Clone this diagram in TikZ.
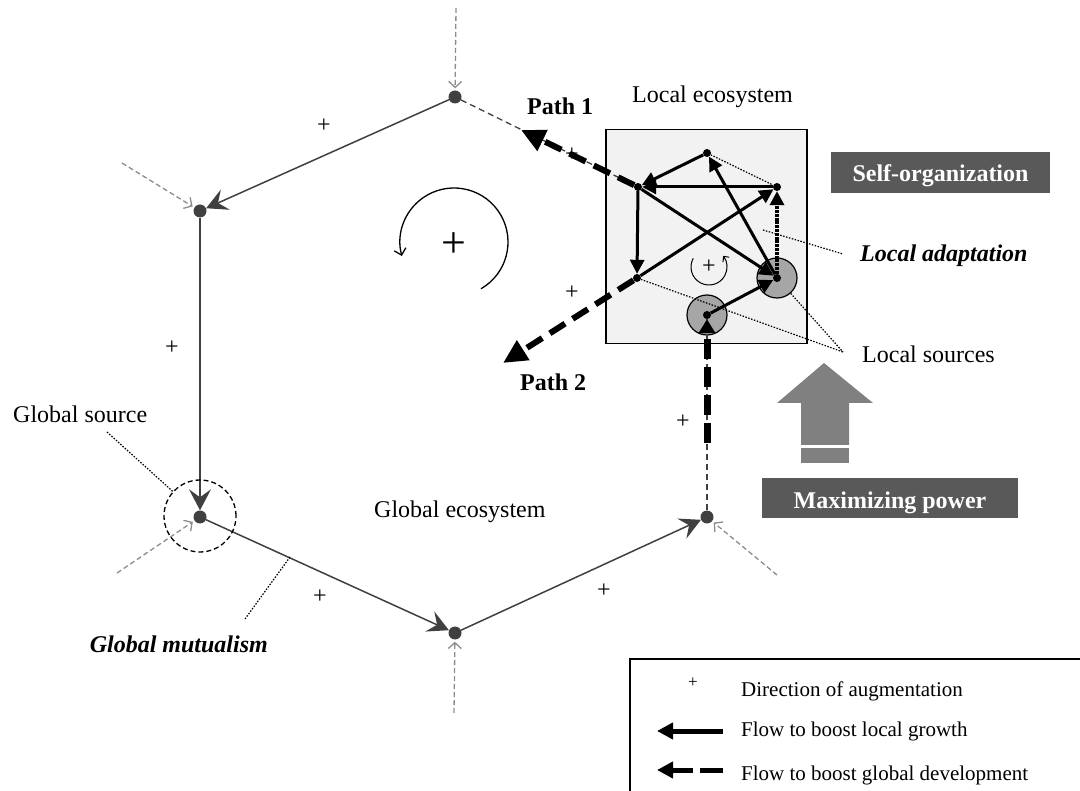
\documentclass[tikz,border=0pt]{standalone}
\usepackage{fontspec}
\setmainfont{Liberation Serif}
\usetikzlibrary{arrows.meta}
\definecolor{hexc}{HTML}{404040}
\definecolor{ingc}{HTML}{8C8C8C}
\definecolor{boxc}{HTML}{595959}
\definecolor{srcc}{HTML}{A6A6A6}
\definecolor{lbgc}{HTML}{F2F2F2}
\definecolor{bigc}{HTML}{808080}
\newcommand\myfs[1]{\fontsize{#1}{#1}\selectfont}
\begin{document}
\begin{tikzpicture}[x=1pt,y=-1pt,
  lbl/.style={inner sep=0pt,font=\myfs{24}},
  leglbl/.style={inner sep=0pt,font=\myfs{21},anchor=base west},
  hexdot/.style={circle,fill=hexc,inner sep=0pt,minimum size=13pt},
  ldot/.style={circle,fill=black,inner sep=0pt,minimum size=8pt},
  srcring/.style={circle,draw=black,fill=srcc,line width=1.2pt,inner sep=0pt,minimum size=40pt},
  hexedge/.style={draw=hexc,line width=1.5pt,-{Stealth[length=21pt,width=22pt,inset=8pt]}},
  thindash/.style={draw=hexc,line width=1.3pt,dash pattern=on 6pt off 4pt},
  inarrow/.style={draw=ingc,line width=1.3pt,dash pattern=on 5pt off 3pt,-{Straight Barb[length=6pt,width=13pt]},shorten >=2pt},
  larrow/.style={line width=3pt,-{Triangle[length=14pt,width=14pt]}},
  patharrow/.style={line width=6pt,dash pattern=on 18pt off 9pt,-{Triangle[length=24pt,width=22pt]}},
  leader/.style={line width=1.2pt,dash pattern=on 1.5pt off 1.5pt},
  rotarrow/.style={line width=1.3pt,-{Straight Barb[length=6pt,width=12pt]}},
  darkbox/.style={fill=boxc,inner sep=0pt,anchor=north west},
  boxtext/.style={inner sep=0pt,font=\myfs{24}\bfseries,text=white,anchor=base},
]
\useasboundingbox (0,0) rectangle (1080,791);

% ---------- global hexagon nodes ----------
\node[hexdot] (n1) at (455,97) {};
\node[hexdot] (n2) at (200,211) {};
\node[hexdot] (n3) at (200,517) {};
\node[hexdot] (n4) at (455,633) {};
\node[hexdot] (n5) at (707,517) {};

% ---------- local ecosystem box ----------
\node[draw,fill=lbgc,line width=1.5pt,inner sep=0pt,minimum width=201pt,minimum height=214pt,anchor=north west] (lbox) at (605,129) {};

% local node positions
\coordinate (Apos) at (707,153);
\coordinate (Bpos) at (638,187);
\coordinate (Cpos) at (777,187);
\coordinate (Dpos) at (637,278);
\coordinate (Epos) at (777,278);
\coordinate (Fpos) at (707,315);

\node[srcring] (Ec) at (Epos) {};
\node[srcring] (Fc) at (Fpos) {};

\node[ldot] (A) at (Apos) {};
\node[ldot] (B) at (Bpos) {};
\node[ldot] (C) at (Cpos) {};
\node[ldot] (D) at (Dpos) {};
\node[ldot] (E) at (Epos) {};
\node[ldot] (F) at (Fpos) {};

% leaders
\coordinate (lsrc) at (843,352);
\coordinate (lad1) at (763,230);
\coordinate (lad2) at (843,254);
\draw[leader] (A) -- (C);
\draw[leader] (D) -- (lsrc);
\draw[leader] (Ec) -- (lsrc);
\draw[leader] (lad1) -- (lad2);

% small rotation inside local box
\draw[line width=1pt,-{Straight Barb[length=4pt,width=8pt]}] (709,267) ++(-151:18) arc[start angle=-151,end angle=-398,radius=18];
\node[lbl] (lplus) at (709,267) {+};

% ---------- hexagon edges ----------
\draw[hexedge] (n1) -- (n2);
\draw[hexedge] (n2) -- (n3);
\draw[hexedge] (n3) -- (n4);
\draw[hexedge] (n4) -- (n5);
\draw[thindash] (n1) -- (B);
\draw[thindash] (n5) -- (F);

% incoming grey dashed arrows
\coordinate (i1) at (456,8);
\coordinate (i2) at (122,163);
\coordinate (i3) at (117,573);
\coordinate (i4) at (454,713);
\coordinate (i5) at (777,575);
\draw[inarrow] (i1) -- (n1);
\draw[inarrow] (i2) -- (n2);
\draw[inarrow] (i3) -- (n3);
\draw[inarrow] (i4) -- (n4);
\draw[inarrow] (i5) -- (n5);

% global source circle and leaders
\node[circle,draw,line width=1.3pt,dash pattern=on 5pt off 3pt,inner sep=0pt,minimum size=72pt] (gsc) at (200,516) {};
\coordinate (gsl) at (107,432);
\draw[leader] (gsl) -- (gsc);
\coordinate (gm1) at (245,619);
\coordinate (gm2) at (290,557);
\draw[leader] (gm1) -- (gm2);

% ---------- local arrows ----------
\draw[larrow] (A) -- (B);
\draw[larrow] (C) -- (B);
\draw[larrow] (B) -- (D);
\draw[larrow] (B) -- (E);
\draw[larrow] (D) -- (C);
\draw[larrow] (E) -- (A);
\draw[larrow,line width=3.5pt,dash pattern=on 3pt off 0.8pt] (E) -- (C);
\draw[larrow] (F) -- (E);

% ---------- path arrows ----------
\coordinate (p1) at (521,130);
\coordinate (p2) at (503,363);
\coordinate (g1) at (707,443);
\draw[patharrow] (B) -- (p1);
\draw[patharrow] (D) -- (p2);
\draw[line width=7pt,dash pattern=on 20pt off 8pt,-{Triangle[length=14pt,width=16pt]}] (g1) -- (F);

% ---------- big rotation ----------
\draw[rotarrow] (454,242) ++(60:54) arc[start angle=60,end angle=-195,radius=54];
\node[inner sep=0pt,font=\myfs{44}] (bigplus) at (454,245) {+};

% ---------- plus labels ----------
\node[lbl] (pl1) at (324,126) {+};
\node[lbl] (pl2) at (172,348) {+};
\node[lbl] (pl3) at (320,597) {+};
\node[lbl] (pl4) at (604,591) {+};
\node[lbl] (pl5) at (683,422) {+};
\node[lbl] (pl6) at (572,155) {+};
\node[lbl] (pl7) at (572,293) {+};

% ---------- texts ----------
\node[lbl,anchor=base west] (tlocal) at (632,103) {Local ecosystem};
\node[lbl,anchor=base west,font=\myfs{24}\bfseries] (tp1) at (527,115) {Path 1};
\node[lbl,anchor=base west,font=\myfs{24}\bfseries] (tp2) at (520,391) {Path 2};
\node[lbl,anchor=base west,font=\myfs{24}\bfseries\itshape] (tla) at (860,262) {Local adaptation};
\node[lbl,anchor=base west] (tls) at (862,363) {Local sources};
\node[lbl,anchor=base west] (tgs) at (13,423) {Global source};
\node[lbl,anchor=base west] (tge) at (374,518) {Global ecosystem};
\node[lbl,anchor=base east,font=\myfs{24}\bfseries\itshape] (tgm) at (268,652) {Global mutualism};

% dark boxes
\node[darkbox,minimum width=219pt,minimum height=41pt] (sobox) at (831,152) {};
\node[boxtext] (sotext) at (940.5,182) {Self-organization};
\node[darkbox,minimum width=256pt,minimum height=40pt] (mpbox) at (762,478) {};
\node[boxtext] (mptext) at (890,509) {Maximizing power};

% big grey arrow
\fill[bigc] (777,403) -- (824,363) -- (873,403) -- (849,403) -- (849,445) -- (801,445) -- (801,403) -- cycle;
\fill[bigc] (801,448) rectangle (849,463);

% ---------- legend ----------
\draw[line width=1.5pt] (630,800) -- (630,659) -- (1090,659);
\node[inner sep=0pt,font=\myfs{17}] (legplus) at (693,683) {+};
\coordinate (l1s) at (723,731);
\coordinate (l1e) at (657,731);
\coordinate (l2s) at (723,770);
\coordinate (l2e) at (657,770);
\draw[line width=5pt,-{Triangle[length=16pt,width=16pt]}] (l1s) -- (l1e);
\draw[line width=5pt,dash pattern=on 23pt off 7pt,-{Triangle[length=16pt,width=16pt]}] (l2s) -- (l2e);
\node[leglbl] (lt1) at (741,696) {Direction of augmentation};
\node[leglbl] (lt2) at (741,736) {Flow to boost local growth};
\node[leglbl] (lt3) at (741,780) {Flow to boost global development};
\end{tikzpicture}
\end{document}
